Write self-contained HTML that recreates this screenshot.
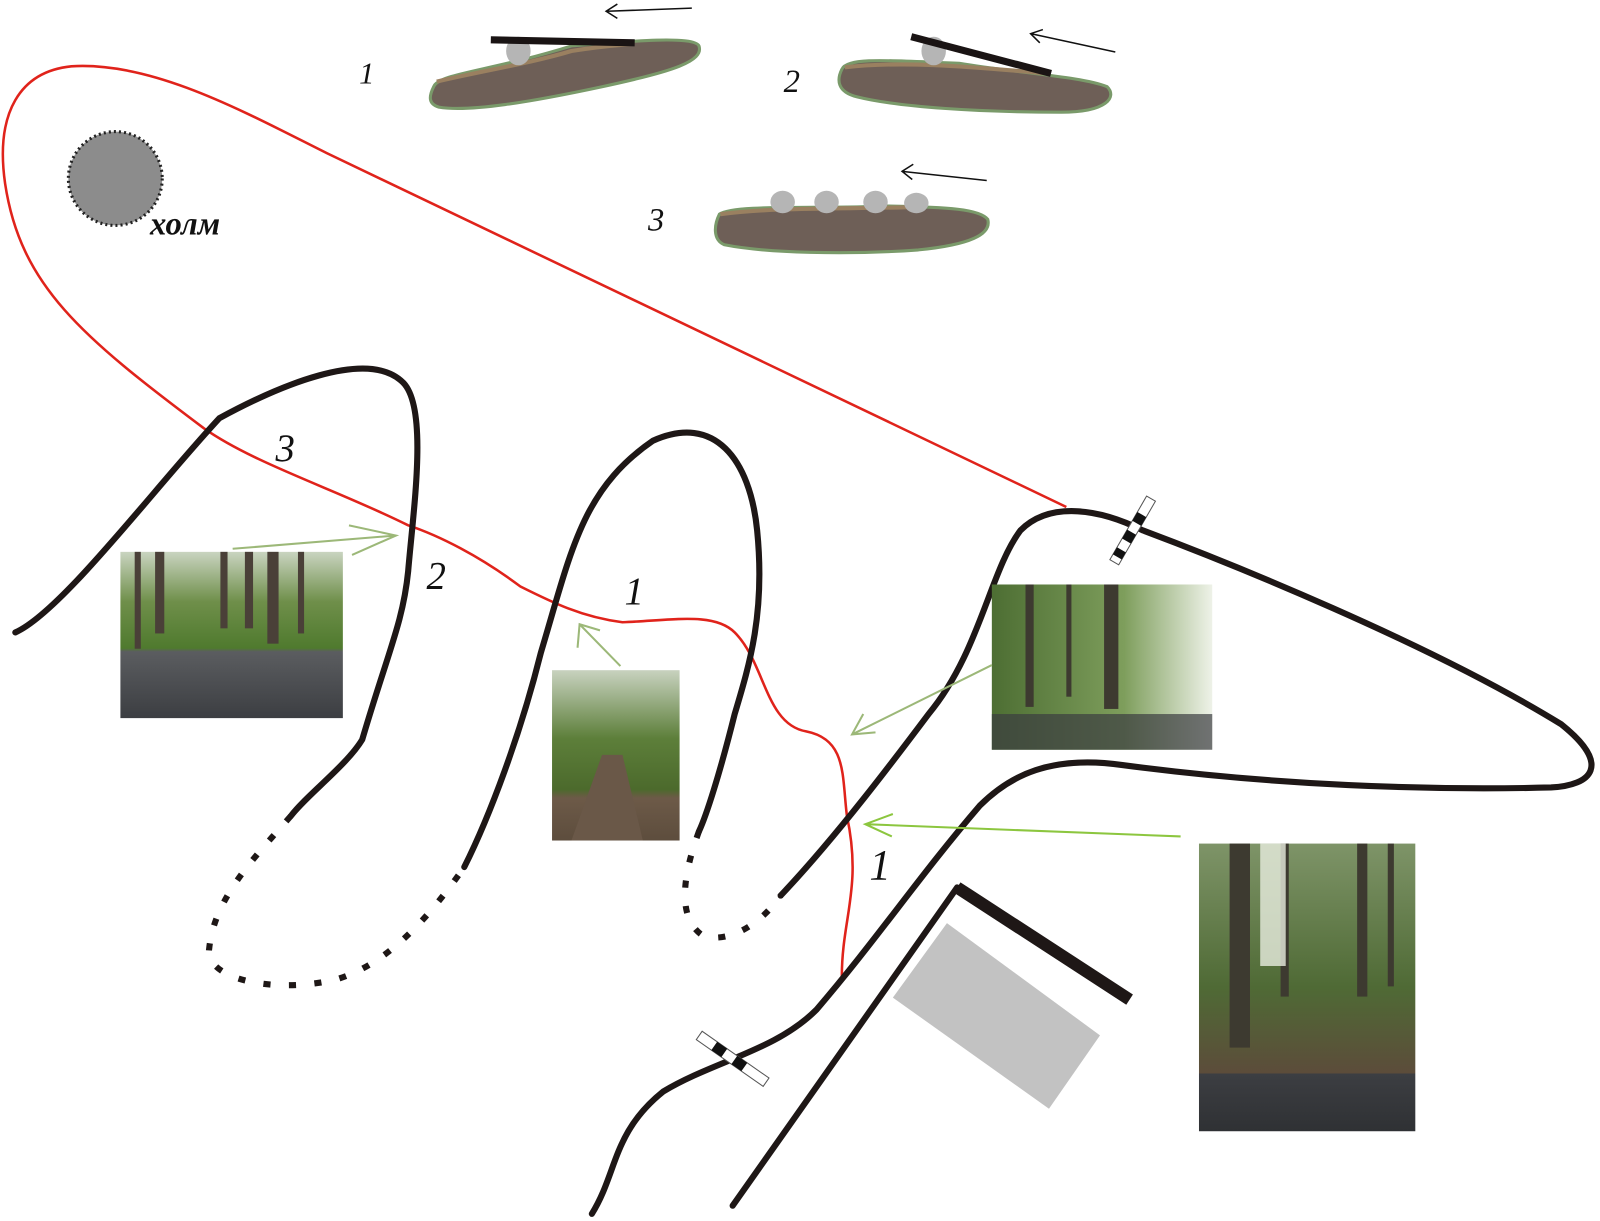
<!DOCTYPE html>
<html><head><meta charset="utf-8"><style>html,body{margin:0;padding:0;background:#fff}svg{display:block}</style></head>
<body>
<svg width="1600" height="1221" viewBox="0 0 1568 1197" preserveAspectRatio="none" xmlns="http://www.w3.org/2000/svg">
<defs>
<linearGradient id="ph1" x1="0" y1="0" x2="0" y2="1"><stop offset="0" stop-color="#c9d4c0"/><stop offset="0.3" stop-color="#6f8f4a"/><stop offset="0.58" stop-color="#4f7a2e"/><stop offset="0.6" stop-color="#5b5d60"/><stop offset="1" stop-color="#3c3e42"/></linearGradient>
<linearGradient id="ph2" x1="0" y1="0" x2="0" y2="1"><stop offset="0" stop-color="#c8d2bf"/><stop offset="0.4" stop-color="#5d7f3a"/><stop offset="0.7" stop-color="#4c6a2c"/><stop offset="0.75" stop-color="#6d5a48"/><stop offset="1" stop-color="#5d4d3d"/></linearGradient>
<linearGradient id="ph3" x1="0" y1="0" x2="1" y2="0"><stop offset="0" stop-color="#4d6e33"/><stop offset="0.6" stop-color="#7e9e5c"/><stop offset="1" stop-color="#eef2e8"/></linearGradient>
<linearGradient id="ph4" x1="0" y1="0" x2="0" y2="1"><stop offset="0" stop-color="#7e9468"/><stop offset="0.5" stop-color="#4f6a35"/><stop offset="0.8" stop-color="#5c4c3a"/><stop offset="0.8" stop-color="#3c3e42"/><stop offset="1" stop-color="#2f3134"/></linearGradient>
</defs>
<!-- profiles -->
<g stroke="#7a9a6a" stroke-width="3">
<path d="M425,85 C430,72 480,70 560,45 C620,40 680,35 685,45 C690,60 660,70 590,85 C520,100 460,110 430,105 C420,102 420,95 425,85Z" fill="#6e5f57"/>
<path d="M825,68 C830,55 880,60 940,62 C1000,72 1060,75 1085,85 C1095,95 1085,110 1040,110 C960,110 880,105 840,95 C820,90 820,78 825,68Z" fill="#6e5f57"/>
<path d="M705,210 C720,200 800,205 870,202 C930,203 960,205 968,215 C972,230 950,240 900,245 C830,250 750,248 710,240 C698,235 700,220 705,210Z" fill="#6e5f57"/>
</g>
<g fill="none" stroke="#9a8060" stroke-width="4">
<path d="M428,80 C470,70 520,62 560,50 C590,45 610,44 620,43"/>
<path d="M828,66 C880,60 940,64 1025,72"/>
<path d="M706,210 C760,203 820,205 900,203"/>
</g>
<g fill="#b5b5b5"><ellipse cx="508" cy="50" rx="12" ry="14"/><ellipse cx="915" cy="50" rx="12" ry="14"/><ellipse cx="767" cy="198" rx="12" ry="11"/><ellipse cx="810" cy="198" rx="12" ry="11"/><ellipse cx="858" cy="198" rx="12" ry="11"/><ellipse cx="898" cy="199" rx="12" ry="10"/></g>
<path d="M481,39 L622,42" stroke="#1a1414" stroke-width="7"/>
<path d="M893,36 L1030,72" stroke="#1a1414" stroke-width="7"/>
<g stroke="#111" stroke-width="1.5" fill="none">
<path d="M678,8 L595,11 M605,4 L594,11 L605,18"/>
<path d="M1093,51 L1010,33 M1022,29 L1010,33 L1019,42"/>
<path d="M967,177 L884,168 M895,161 L884,168 L894,176"/>
</g>
<!-- hill -->
<circle cx="113" cy="175" r="46" fill="#8c8c8c" stroke="#222" stroke-width="3" stroke-dasharray="2 3"/>
<!-- red route -->
<path d="M1045,497 L320,150 C240,110 150,60 70,65 C20,70 -5,110 5,180 C20,280 80,330 200,420 C250,455 330,480 400,515 C430,525 470,545 510,575 C540,590 570,605 610,610 C660,608 700,600 720,620 C750,650 750,710 790,717 C830,725 825,760 830,800 C845,870 825,900 825,957" fill="none" stroke="#e0231b" stroke-width="2.5"/>
<!-- black roads -->
<g fill="none" stroke="#1e1716" stroke-width="6" stroke-linecap="round">
<path d="M15,620 C60,600 150,480 215,410 C270,380 360,340 395,375 C420,400 405,500 400,560 C395,610 380,640 355,725 C340,750 300,780 285,800"/>
<path d="M455,850 C480,800 510,720 530,640 C560,540 570,480 640,432 C700,405 735,450 742,520 C750,600 735,650 720,700 C705,760 692,800 685,815"/>
<path d="M765,878 C820,820 880,740 910,700 C960,640 970,560 1000,520 C1030,490 1080,500 1120,520 C1200,550 1400,630 1530,710 C1580,750 1560,770 1520,772 C1400,775 1250,770 1100,750 C1030,740 990,760 960,790 C900,860 860,920 800,990 C760,1030 700,1040 650,1070 C600,1110 605,1150 580,1190"/>
<path d="M718,1182 L938,870"/>
</g>
<g fill="none" stroke="#1e1716" stroke-width="6" stroke-dasharray="7 18">
<path d="M285,800 C250,840 210,880 205,930 C200,960 270,975 330,960 C380,945 420,900 455,850"/>
<path d="M685,815 C672,850 660,900 690,918 C720,925 750,900 765,878"/>
</g>
<path d="M938,870 L1107,980" stroke="#1e1716" stroke-width="12"/>
<polygon points="928,905 1078,1015 1028,1087 875,978" fill="#c2c2c2"/>
<!-- crossing markers -->
<g transform="translate(1110,520) rotate(-60)"><rect x="-36" y="-5" width="72" height="10" fill="#fff" stroke="#555" stroke-width="1"/><rect x="-12" y="-5" width="10" height="10" fill="#111"/><rect x="8" y="-5" width="10" height="10" fill="#111"/><rect x="-30" y="-5" width="8" height="10" fill="#111"/></g>
<g transform="translate(718,1038) rotate(35)"><rect x="-40" y="-5" width="80" height="10" fill="#fff" stroke="#555" stroke-width="1"/><rect x="-22" y="-5" width="12" height="10" fill="#111"/><rect x="2" y="-5" width="12" height="10" fill="#111"/></g>
<!-- photos -->
<rect x="118" y="541" width="218" height="163" fill="url(#ph1)"/>
<g fill="#4a4038"><rect x="132" y="541" width="6" height="95"/><rect x="152" y="541" width="9" height="80"/><rect x="216" y="541" width="7" height="75"/><rect x="240" y="541" width="8" height="75"/><rect x="262" y="541" width="11" height="90"/><rect x="292" y="541" width="6" height="80"/></g>
<rect x="541" y="657" width="125" height="167" fill="url(#ph2)"/>
<polygon points="590,740 610,740 630,824 560,824" fill="#6a5848"/>
<rect x="972" y="573" width="216" height="162" fill="url(#ph3)"/>
<g fill="#3d3a30"><rect x="1005" y="573" width="8" height="120"/><rect x="1082" y="573" width="14" height="122"/><rect x="1045" y="573" width="5" height="110"/></g>
<rect x="972" y="700" width="216" height="35" fill="#3a3c40" opacity="0.7"/>
<rect x="1175" y="827" width="212" height="282" fill="url(#ph4)"/>
<g fill="#3d3a30"><rect x="1205" y="827" width="20" height="200"/><rect x="1255" y="827" width="8" height="150"/><rect x="1330" y="827" width="10" height="150"/><rect x="1360" y="827" width="6" height="140"/></g>
<rect x="1235" y="827" width="25" height="120" fill="#e8eee0" opacity="0.8"/>
<!-- photo arrows -->
<g fill="none" stroke="#9cb878" stroke-width="2">
<path d="M228,538 L388,525 M342,515 L388,525 L345,544"/>
<path d="M608,653 L568,612 M566,635 L568,612 L588,618"/>
<path d="M972,652 L835,720 M846,700 L835,720 L858,718"/>
</g>
<g fill="none" stroke="#8cc63f" stroke-width="2"><path d="M1157,820 L848,808 M875,798 L848,808 L874,820"/></g>
<!-- labels -->
<g font-family="'Liberation Serif', serif" font-style="italic" fill="#111">
<text x="352" y="82" font-size="30">1</text>
<text x="768" y="90" font-size="32">2</text>
<text x="635" y="226" font-size="32">3</text>
<text x="270" y="452" font-size="38">3</text>
<text x="418" y="577" font-size="38">2</text>
<text x="612" y="592" font-size="38">1</text>
<text x="852" y="862" font-size="42">1</text>
<text x="147" y="230" font-size="32" font-weight="bold">холм</text>
</g>
</svg>
</body></html>
